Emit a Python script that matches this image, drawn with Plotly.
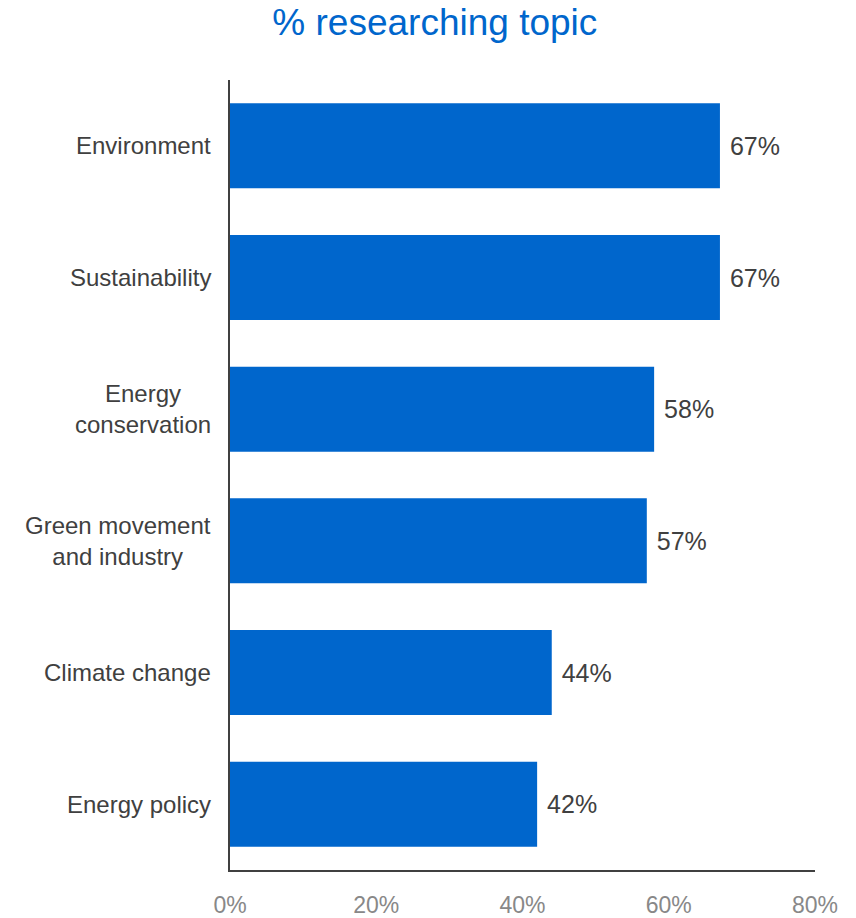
import plotly.graph_objects as go

categories = ["Environment", "Sustainability", "Energy<br>conservation",
              "Green movement<br>and industry", "Climate change", "Energy policy"]
values = [67, 67, 58, 57, 44, 42]
tick_vals = [0, 20, 40, 60, 80]
tick_text = ["0%", "20%", "40%", "60%", "80%"]

BLUE = "#0066CC"
DARK = "#404040"
FONT = "Liberation Sans, Arial, sans-serif"

fig = go.Figure(go.Bar(
    x=values,
    y=categories,
    orientation="h",
    marker=dict(color=BLUE, line=dict(width=0)),
    width=0.645,
    text=[f"{v}%" for v in values],
    texttemplate=" %{text}",
    textposition="outside",
    textfont=dict(family=FONT, size=25, color=DARK),
    cliponaxis=False,
))

# category labels, right-anchored next to the axis with centred lines
for c in categories:
    fig.add_annotation(
        x=0, xref="paper", y=c, yref="y",
        text=c, showarrow=False,
        xanchor="right", yanchor="middle", align="center",
        xshift=-17,
        font=dict(family=FONT, size=24, color=DARK),
    )

fig.update_layout(
    width=856, height=918,
    margin=dict(l=230, r=41, t=80, b=48),
    paper_bgcolor="white", plot_bgcolor="white",
    showlegend=False,
    title=dict(
        text="% researching topic",
        x=0.508, xanchor="center", xref="container",
        y=0.976, yanchor="middle", yref="container",
        font=dict(family=FONT, size=37, color=BLUE),
    ),
    xaxis=dict(
        range=[0, 80], tickvals=tick_vals, ticktext=tick_text,
        showgrid=False, zeroline=False, automargin=False,
        showline=True, linecolor=DARK, linewidth=2,
        ticks="", ticklabelstandoff=13,
        tickfont=dict(family=FONT, size=23, color="#888888"),
    ),
    yaxis=dict(
        autorange="reversed", showticklabels=False,
        showgrid=False, zeroline=False, automargin=False,
        showline=True, linecolor=DARK, linewidth=2,
        ticks="",
    ),
)

fig.write_html("out.html")
